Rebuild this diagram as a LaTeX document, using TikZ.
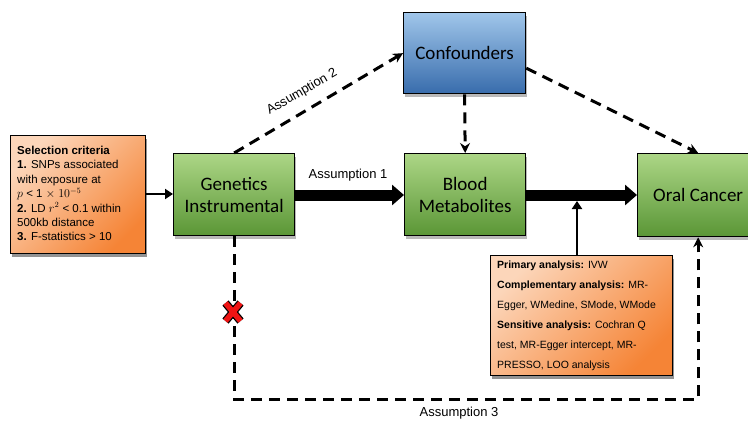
\documentclass[tikz,border=0pt]{standalone}
\usepackage{fontspec}
\setmainfont{Liberation Sans}
\newfontfamily\titlefont{Carlito}
\usetikzlibrary{arrows.meta,shadows}
\definecolor{gtop}{RGB}{172,214,134}
\definecolor{gbot}{RGB}{90,150,54}
\definecolor{btop}{RGB}{160,198,234}
\definecolor{bbot}{RGB}{56,108,172}
\definecolor{otop}{RGB}{252,214,186}
\definecolor{obot}{RGB}{245,132,54}
\definecolor{xred}{RGB}{238,20,20}
\begin{document}
\begin{tikzpicture}[x=1pt,y=-1pt,
  boxline/.style={draw=black, line width=1.3pt},
  myshadow/.style={drop shadow={opacity=0.55, shadow xshift=1pt, shadow yshift=-3pt}},
  titlebox/.style={boxline, myshadow, anchor=north west, align=center, inner sep=0pt,
    font=\titlefont\fontsize{19}{22}\selectfont},
  greenbox/.style={titlebox, top color=gtop, bottom color=gbot},
  bluebox/.style={titlebox, top color=btop, bottom color=bbot},
  orangebox/.style={boxline, drop shadow={opacity=0.85, shadow xshift=1.5pt, shadow yshift=-3.5pt},
    anchor=north west, inner sep=0pt, top color=otop, bottom color=obot, shading angle=45},
  thickarrow/.style={line width=11pt, -{Triangle[length=12pt,width=20pt]}},
  thinarrow/.style={line width=2.6pt, -{Triangle[length=8pt,width=10pt]}},
  dasharrow/.style={line width=3pt, dash pattern=on 11pt off 7pt, -{Stealth[length=10pt,width=10pt]}},
  lbl/.style={font=\fontsize{13}{15}\selectfont, inner sep=0pt}
]
\useasboundingbox (0,0) rectangle (748,421);

% boxes
\node[orangebox, minimum width=135pt, minimum height=118pt] (sel) at (10,135) {};
\node[anchor=west, align=left, inner sep=0pt, font=\fontsize{11.5}{14.4}\selectfont] (seltext) at ([xshift=7pt,yshift=1pt]sel.west)
 {\textbf{Selection criteria}\\
  \textbf{1.} SNPs associated\\
  with exposure at\\
  $p$ < 1 $\times$ $10^{-5}$\\
  \textbf{2.} LD $r^2$ < 0.1 within\\
  500kb distance\\
  \textbf{3.} F-statistics > 10};

\node[greenbox, minimum width=121pt, minimum height=82pt] (gen) at (173,153) {Genetics\\Instrumental};
\node[bluebox, minimum width=122pt, minimum height=81pt] (conf) at (403,12) {Confounders};
\node[greenbox, minimum width=121pt, minimum height=82pt] (blood) at (404,153) {Blood\\Metabolites};
\node[greenbox, minimum width=121pt, minimum height=83pt] (oral) at (637,153) {Oral Cancer};

\node[orangebox, minimum width=182pt, minimum height=120pt] (ana) at (490,255) {};
\node[anchor=west, align=left, inner sep=0pt, font=\fontsize{10.5}{20}\selectfont] (anatext) at ([xshift=7pt,yshift=0pt]ana.west)
 {\textbf{Primary analysis:} IVW\\
  \textbf{Complementary analysis:} MR-\\
  Egger, WMedine, SMode, WMode\\
  \textbf{Sensitive analysis:} Cochran Q\\
  test, MR-Egger intercept, MR-\\
  PRESSO, LOO analysis};

% solid arrows
\draw[thinarrow] (sel.east |- 0,194) -- (gen.west |- 0,194);
\draw[thickarrow] (gen.east |- 0,195) -- (blood.west |- 0,195);
\draw[thickarrow] (blood.east |- 0,195) -- (oral.west |- 0,195);
\coordinate (mid) at (577,201);
\draw[thinarrow] (ana.north -| mid) -- (mid);

% dashed arrows
\draw[dasharrow] (gen.north) -- (conf.west);
\draw[dasharrow] (conf.south) -- (blood.north);
\draw[dasharrow] ([yshift=-15pt]conf.east) -- (oral.north);
\draw[dasharrow] (gen.south) -- ++(0,163) -| (oral.south);

% red cross
\coordinate (cross) at (233,312);
\foreach \c/\w in {black/8, xred/5.5}{
  \draw[\c, line width=\w pt] ([shift={(-7.5,-9)}]cross) -- ([shift={(7.5,9)}]cross);
  \draw[\c, line width=\w pt] ([shift={(7.5,-9)}]cross) -- ([shift={(-7.5,9)}]cross);
}

% labels
\node[lbl] (a1) at (348,175) {Assumption 1};
\node[lbl, rotate=30] (a2) at (302,92) {Assumption 2};
\node[lbl] (a3) at (459,413) {Assumption 3};
\end{tikzpicture}
\end{document}
